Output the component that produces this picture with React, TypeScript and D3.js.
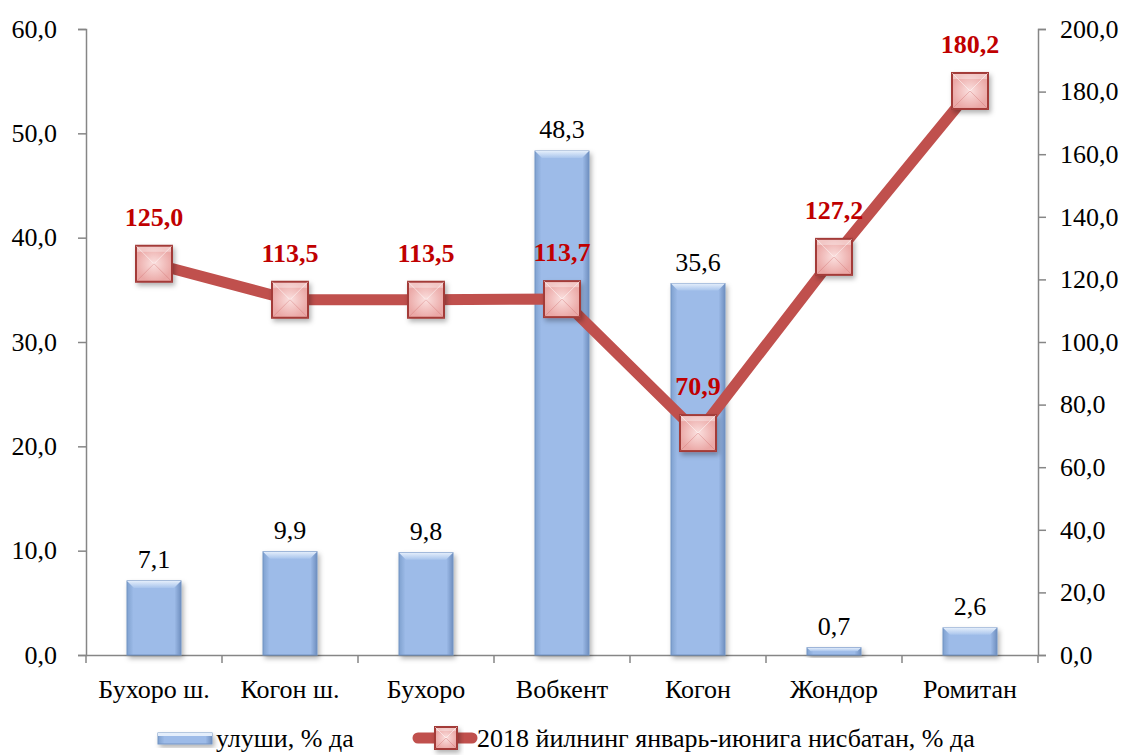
import React, { useEffect, useRef } from "react";
import * as d3 from "d3";

const categories = ["Бухоро ш.", "Когон ш.", "Бухоро", "Вобкент", "Когон", "Жондор", "Ромитан"];
const shares = [7.1, 9.9, 9.8, 48.3, 35.6, 0.7, 2.6];
const growth = [125.0, 113.5, 113.5, 113.7, 70.9, 127.2, 180.2];
const leftTicks = [0, 10, 20, 30, 40, 50, 60];
const rightTicks = [0, 20, 40, 60, 80, 100, 120, 140, 160, 180, 200];
const barName = "улуши, % да";
const lineName = "2018 йилнинг январь-июнига нисбатан, % да";

const fmt = (v: number) => v.toFixed(1).replace(".", ",");

const App = () => {
  const ref = useRef<SVGSVGElement>(null);

  useEffect(() => {
    document.body.style.margin = "0";
    const width = 1126;
    const height = 755;
    const margin = { top: 29, right: 88, bottom: 100, left: 86 };
    const font = "'Liberation Serif', 'Times New Roman', serif";
    const fs = 26;

    const svg = d3.select(ref.current);
    svg.selectAll("*").remove();
    svg.attr("width", width).attr("height", height).style("display", "block");

    const defs = svg.append("defs");
    const bg = defs.append("linearGradient").attr("id", "barGrad").attr("x1", 0).attr("x2", 1).attr("y1", 0).attr("y2", 0);
    bg.append("stop").attr("offset", "0%").attr("stop-color", "#7FA1CF");
    bg.append("stop").attr("offset", "12%").attr("stop-color", "#9DBBE8");
    bg.append("stop").attr("offset", "88%").attr("stop-color", "#9DBBE8");
    bg.append("stop").attr("offset", "100%").attr("stop-color", "#6F8FBF");
    const bt = defs.append("linearGradient").attr("id", "barTop").attr("x1", 0).attr("x2", 0).attr("y1", 0).attr("y2", 1);
    bt.append("stop").attr("offset", "0%").attr("stop-color", "#E4EEFB");
    bt.append("stop").attr("offset", "100%").attr("stop-color", "#A8C4EC");
    const mg = defs.append("radialGradient").attr("id", "mGrad");
    mg.append("stop").attr("offset", "0%").attr("stop-color", "#FBE0DF");
    mg.append("stop").attr("offset", "100%").attr("stop-color", "#EBA9A7");
    const sh = defs.append("filter").attr("id", "shadow").attr("x", "-30%").attr("y", "-30%").attr("width", "160%").attr("height", "160%");
    sh.append("feDropShadow").attr("dx", 2).attr("dy", 3).attr("stdDeviation", 2.5).attr("flood-color", "#000").attr("flood-opacity", 0.3);

    const x = d3
      .scaleBand<string>()
      .domain(categories)
      .range([margin.left, width - margin.right]);
    const yL = d3.scaleLinear().domain([0, 60]).range([height - margin.bottom, margin.top]);
    const yR = d3.scaleLinear().domain([0, 200]).range([height - margin.bottom, margin.top]);

    const axisColor = "#868686";
    const x0 = margin.left;
    const x1 = width - margin.right;
    const yb = height - margin.bottom;

    // left axis
    const gl = svg.append("g").attr("transform", `translate(${x0},0)`)
      .call(d3.axisLeft(yL).tickValues(leftTicks).tickSize(8).tickSizeOuter(8).tickFormat((d) => fmt(+d)).tickPadding(21));
    // right axis
    const gr = svg.append("g").attr("transform", `translate(${x1},0)`)
      .call(d3.axisRight(yR).tickValues(rightTicks).tickSize(8).tickSizeOuter(8).tickFormat((d) => fmt(+d)).tickPadding(14));
    // bottom axis
    const gb = svg.append("g").attr("transform", `translate(0,${yb})`)
      .call(d3.axisBottom(x).tickSize(0).tickSizeOuter(0).tickPadding(25));
    gb.selectAll(".tick line").remove();
    gb.selectAll("line.sep")
      .data(d3.range(categories.length + 1))
      .join("line")
      .attr("x1", (i) => x0 + i * x.step())
      .attr("x2", (i) => x0 + i * x.step())
      .attr("y1", 0)
      .attr("y2", 8)
      .attr("stroke", axisColor)
      .attr("stroke-width", 1.5);

    [gl, gr, gb].forEach((g) => {
      g.selectAll("path").attr("stroke", axisColor).attr("stroke-width", 1.5);
      g.selectAll(".tick line").attr("stroke", axisColor).attr("stroke-width", 1.5);
      g.selectAll("text").attr("font-family", font).attr("font-size", fs).attr("fill", "#000");
    });

    // bars
    const bw = 54;
    const bars = svg.append("g");
    categories.forEach((c, i) => {
      const bx = x(c)! + x.bandwidth() / 2 - bw / 2;
      const by = yL(shares[i]);
      const bh = yb - by;
      const g = bars.append("g");
      g.append("rect").attr("x", bx).attr("y", by).attr("width", bw).attr("height", bh)
        .attr("fill", "url(#barGrad)").attr("stroke", "#7293C4").attr("stroke-width", 1).attr("filter", "url(#shadow)");
      const bev = Math.min(7, bh / 2);
      g.append("path")
        .attr("d", `M${bx},${by}L${bx + bw},${by}L${bx + bw - bev},${by + bev}L${bx + bev},${by + bev}Z`)
        .attr("fill", "url(#barTop)");
      g.append("text").attr("x", bx + bw / 2).attr("y", by - 13).attr("text-anchor", "middle")
        .attr("font-family", font).attr("font-size", fs).attr("fill", "#000").text(fmt(shares[i]));
    });

    // line
    const cx = (c: string) => x(c)! + x.bandwidth() / 2;
    const line = d3.line<number>().x((_, i) => cx(categories[i])).y((d) => yR(d));
    svg.append("path").datum(growth).attr("d", line).attr("fill", "none")
      .attr("stroke", "#C0504D").attr("stroke-width", 11).attr("stroke-linejoin", "round");

    const ms = 36;
    const drawMarker = (g: d3.Selection<SVGGElement, unknown, null, undefined>, px: number, py: number, s: number) => {
      const h = s / 2;
      g.append("rect").attr("x", px - h).attr("y", py - h).attr("width", s).attr("height", s)
        .attr("fill", "url(#mGrad)").attr("stroke", "#A33B38").attr("stroke-width", 2).attr("filter", "url(#shadow)");
      const b = s * 0.14;
      g.append("path").attr("d", `M${px - h},${py - h}L${px},${py}L${px + h},${py - h}`)
        .attr("fill", "none").attr("stroke", "#fff").attr("stroke-opacity", 0.5).attr("stroke-width", 1);
      g.append("path").attr("d", `M${px - h},${py + h}L${px},${py}L${px + h},${py + h}`)
        .attr("fill", "none").attr("stroke", "#C66").attr("stroke-opacity", 0.35).attr("stroke-width", 1);
      g.append("rect").attr("x", px - h + 1).attr("y", py - h + 1).attr("width", s - 2).attr("height", b)
        .attr("fill", "#fff").attr("opacity", 0.35);
    };
    const mk = svg.append("g");
    growth.forEach((v, i) => {
      const px = cx(categories[i]);
      const py = yR(v);
      drawMarker(mk.append("g"), px, py, ms);
      mk.append("text").attr("x", px).attr("y", py - 38).attr("text-anchor", "middle")
        .attr("font-family", font).attr("font-size", fs).attr("font-weight", "bold").attr("fill", "#C00000").text(fmt(v));
    });

    // legend
    const ly = 738;
    const lg = svg.append("g");
    lg.append("rect").attr("x", 158).attr("y", ly - 5).attr("width", 54).attr("height", 11)
      .attr("fill", "url(#barGrad)").attr("stroke", "#7293C4").attr("filter", "url(#shadow)");
    lg.append("rect").attr("x", 158).attr("y", ly - 5).attr("width", 54).attr("height", 3).attr("fill", "#E4EEFB");
    lg.append("text").attr("x", 216).attr("y", ly + 9).attr("font-family", font).attr("font-size", fs).text(barName);
    lg.append("line").attr("x1", 418).attr("x2", 472).attr("y1", ly).attr("y2", ly)
      .attr("stroke", "#C0504D").attr("stroke-width", 11).attr("stroke-linecap", "round");
    drawMarker(lg.append("g"), 446, ly, 22);
    lg.append("text").attr("x", 477).attr("y", ly + 9).attr("font-family", font).attr("font-size", fs).text(lineName);
  }, []);

  return <svg ref={ref}></svg>;
};

export default App;
